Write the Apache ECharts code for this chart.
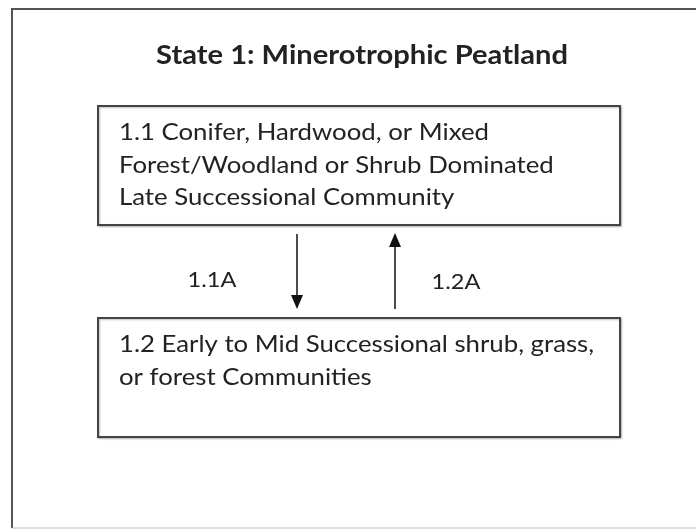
<!DOCTYPE html>
<html>
<head>
<meta charset="utf-8">
<script src="https://cdn.jsdelivr.net/npm/echarts@6/dist/echarts.min.js"></script>
<style>
  html, body { margin: 0; padding: 0; background: #fff; }
  #chart { width: 696px; height: 529px; }
</style>
</head>
<body>
<div id="chart"></div>
<script>
// diagram text
const stateTitle = "State 1: Minerotrophic Peatland";
const community11 = [
  "1.1 Conifer, Hardwood, or Mixed",
  "Forest/Woodland or Shrub Dominated",
  "Late Successional Community"
];
const community12 = [
  "1.2 Early to Mid Successional shrub, grass,",
  "or forest Communities"
];
const pathwayLabels = ["1.1A", "1.2A"];

const FONT = "Lato, 'Open Sans', sans-serif";
const INK = "#222";
const EDGE = "#444";
const STRETCH = 1.12; // the scan is a bit wider than tall

// box with a soft shadow like the scanned original
function box(x, y, w, h) {
  return {
    type: "rect",
    shape: { x: x, y: y, width: w, height: h },
    style: {
      fill: "#fff", stroke: EDGE, lineWidth: 2,
      shadowColor: "rgba(0,0,0,0.25)", shadowBlur: 2, shadowOffsetX: 1, shadowOffsetY: 1
    }
  };
}

function label(t, x, y, size, align, weight) {
  return {
    type: "text",
    x: x, y: y, scaleX: STRETCH,
    style: {
      text: t, font: (weight || "normal") + " " + size + "px " + FONT, fill: INK,
      textAlign: align, textVerticalAlign: "middle"
    }
  };
}

function textLines(lines, x, y0, step) {
  return lines.map(function (t, i) {
    return label(t, x, y0 + i * step, 23, "left");
  });
}

function arrow(x, y1, y2) {
  // y1 -> y2, head at y2
  const dir = y2 > y1 ? 1 : -1;
  return [
    {
      type: "line",
      shape: { x1: x, y1: y1, x2: x, y2: y2 - dir * 12 },
      style: { stroke: "#111", lineWidth: 1.5 }
    },
    {
      type: "polygon",
      shape: { points: [[x - 6, y2 - dir * 14], [x + 6, y2 - dir * 14], [x, y2]] },
      style: { fill: "#111" }
    }
  ];
}

const elements = [
  // outer frame (right side runs off the page)
  { type: "line", shape: { x1: 11, y1: 9, x2: 700, y2: 9 }, style: { stroke: "#555", lineWidth: 2 } },
  { type: "line", shape: { x1: 12, y1: 9, x2: 12, y2: 528 }, style: { stroke: "#555", lineWidth: 2 } },
  { type: "line", shape: { x1: 12, y1: 528, x2: 700, y2: 528 }, style: { stroke: "#bbb", lineWidth: 1 } },
  label(stateTitle, 362, 56, 26, "center", "bold"),
  box(98, 106, 522, 119),
  box(98, 318, 522, 119)
]
  .concat(textLines(community11, 119, 133, 32.5))
  .concat(textLines(community12, 119, 345, 33))
  .concat(arrow(297, 234, 309))
  .concat(arrow(395, 309, 233))
  .concat([
    label(pathwayLabels[0], 212, 280, 21, "center"),
    label(pathwayLabels[1], 456, 282, 21, "center")
  ]);

const chart = echarts.init(document.getElementById("chart"));
chart.setOption({
  backgroundColor: "#fff",
  animation: false,
  graphic: { elements: elements }
});
</script>
</body>
</html>
